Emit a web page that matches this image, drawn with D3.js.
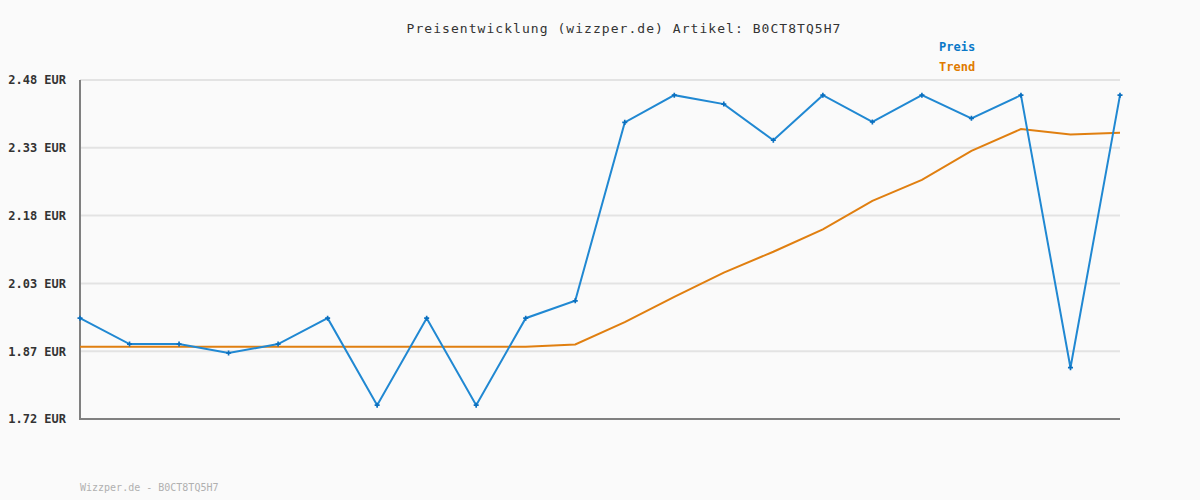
<!DOCTYPE html>
<html><head><meta charset="utf-8">
<script src="https://cdn.jsdelivr.net/npm/d3@7"></script>
<style>
html,body{margin:0;padding:0;background:#fafafa;}
svg{display:block;}
</style></head>
<body>
<svg id="c" width="1200" height="500"></svg>
<script>
const titleText = "Preisentwicklung (wizzper.de) Artikel: B0CT8TQ5H7";
const footerText = "Wizzper.de - B0CT8TQ5H7";
const seriesNames = ["Preis", "Trend"];
const preis = [1.946, 1.888, 1.888, 1.868, 1.888, 1.946, 1.751, 1.946, 1.751, 1.946, 1.985,
               2.385, 2.446, 2.426, 2.345, 2.446, 2.386, 2.446, 2.394, 2.446, 1.835, 2.446];
const trend = [1.882, 1.882, 1.882, 1.882, 1.882, 1.882, 1.882, 1.882, 1.882, 1.882, 1.887,
               1.937, 1.994, 2.048, 2.095, 2.145, 2.209, 2.256, 2.321, 2.370, 2.358, 2.362];
const tickValues = [1.72, 1.872, 2.024, 2.176, 2.328, 2.48];
const tickLabels = ["1.72 EUR", "1.87 EUR", "2.03 EUR", "2.18 EUR", "2.33 EUR", "2.48 EUR"];

(function () {
const svg = d3.select("#c");
const mL = 80, mR = 1120, mT = 80, mB = 419;
const x = d3.scaleLinear().domain([0, preis.length - 1]).range([mL, mR]);
const y = d3.scaleLinear().domain([1.72, 2.48]).range([mB, mT]);

svg.append("rect").attr("width", 1200).attr("height", 500).attr("fill", "#fafafa");

// gridlines
svg.append("g").selectAll("line").data(tickValues.slice(1)).join("line")
  .attr("x1", mL).attr("x2", mR)
  .attr("y1", d => y(d)).attr("y2", d => y(d))
  .attr("stroke", "#e3e3e3").attr("stroke-width", 2);

// axis labels
const yAxis = d3.axisLeft(y).tickValues(tickValues).tickSize(0).tickPadding(14)
  .tickFormat((d, i) => tickLabels[i]);
const ga = svg.append("g").attr("transform", `translate(${mL},0)`).call(yAxis);
ga.select(".domain").remove();
ga.selectAll("text").attr("font-family", "DejaVu Sans Mono, monospace")
  .attr("font-size", 12).attr("font-weight", "bold").attr("fill", "#333");

// axis lines
svg.append("line").attr("x1", mL).attr("x2", mL).attr("y1", mT).attr("y2", mB + 1)
  .attr("stroke", "#808080").attr("stroke-width", 2);
svg.append("line").attr("x1", mL - 1).attr("x2", mR).attr("y1", mB).attr("y2", mB)
  .attr("stroke", "#808080").attr("stroke-width", 2);

const line = d3.line().x((d, i) => x(i)).y(d => y(d));
svg.append("path").attr("d", line(trend)).attr("fill", "none")
  .attr("stroke", "#e07f10").attr("stroke-width", 2);
svg.append("path").attr("d", line(preis)).attr("fill", "none")
  .attr("stroke", "#2088d2").attr("stroke-width", 2);
svg.append("g").selectAll("path").data(preis).join("path")
  .attr("transform", (d, i) => `translate(${x(i)},${y(d)})`)
  .attr("d", d3.symbol(d3.symbolCross, 14))
  .attr("fill", "#0a6fbf");

// title
svg.append("text").attr("x", 624).attr("y", 33).attr("text-anchor", "middle")
  .attr("font-family", "DejaVu Sans Mono, monospace").attr("font-size", 13)
  .attr("letter-spacing", 1.05)
  .attr("fill", "#333").text(titleText);

// legend
const legColors = ["#0a78c8", "#e07b00"];
svg.append("g").selectAll("text").data(seriesNames).join("text")
  .attr("x", 939).attr("y", (d, i) => 51 + i * 20)
  .attr("font-family", "DejaVu Sans Mono, monospace").attr("font-size", 12)
  .attr("font-weight", "bold").attr("fill", (d, i) => legColors[i]).text(d => d);

// footer
svg.append("text").attr("x", 80).attr("y", 491)
  .attr("font-family", "DejaVu Sans Mono, monospace").attr("font-size", 10)
  .attr("fill", "#b0b0b0").text(footerText);
})();
</script>
</body></html>
